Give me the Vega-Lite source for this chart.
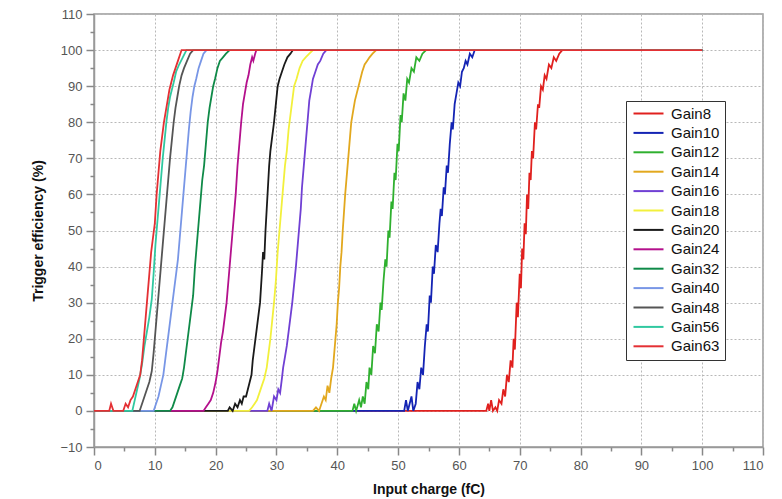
{
  "$schema": "https://vega.github.io/schema/vega-lite/v6.json",
  "width": 669,
  "height": 433,
  "autosize": {"type": "none"},
  "padding": {"left": 94, "top": 14, "right": 19, "bottom": 52},
  "background": "white",
  "config": {
    "view": {"stroke": "#999999", "strokeWidth": 1.5},
    "font": "Liberation Sans"
  },
  "data": {"values": [
    {"gain":"Gain8","charge":0,"eff":0},{"gain":"Gain8","charge":64.5,"eff":0},{"gain":"Gain8","charge":64.8,"eff":2},{"gain":"Gain8","charge":65.0,"eff":0},{"gain":"Gain8","charge":65.3,"eff":3},{"gain":"Gain8","charge":65.6,"eff":0},{"gain":"Gain8","charge":66.0,"eff":1},{"gain":"Gain8","charge":66.3,"eff":0},{"gain":"Gain8","charge":66.6,"eff":3},{"gain":"Gain8","charge":67.0,"eff":2},{"gain":"Gain8","charge":67.3,"eff":6},{"gain":"Gain8","charge":67.6,"eff":4},{"gain":"Gain8","charge":67.9,"eff":10},{"gain":"Gain8","charge":68.2,"eff":8},{"gain":"Gain8","charge":68.5,"eff":14},{"gain":"Gain8","charge":68.8,"eff":12},{"gain":"Gain8","charge":69.0,"eff":20},{"gain":"Gain8","charge":69.2,"eff":17},{"gain":"Gain8","charge":69.5,"eff":30},{"gain":"Gain8","charge":69.7,"eff":26},{"gain":"Gain8","charge":70.0,"eff":38},{"gain":"Gain8","charge":70.2,"eff":34},{"gain":"Gain8","charge":70.4,"eff":45},{"gain":"Gain8","charge":70.6,"eff":42},{"gain":"Gain8","charge":70.8,"eff":52},{"gain":"Gain8","charge":71.0,"eff":49},{"gain":"Gain8","charge":71.2,"eff":60},{"gain":"Gain8","charge":71.4,"eff":56},{"gain":"Gain8","charge":71.6,"eff":66},{"gain":"Gain8","charge":71.8,"eff":64},{"gain":"Gain8","charge":72.0,"eff":72},{"gain":"Gain8","charge":72.2,"eff":70},{"gain":"Gain8","charge":72.5,"eff":80},{"gain":"Gain8","charge":72.7,"eff":78},{"gain":"Gain8","charge":73.0,"eff":85},{"gain":"Gain8","charge":73.2,"eff":84},{"gain":"Gain8","charge":73.5,"eff":90},{"gain":"Gain8","charge":73.8,"eff":89},{"gain":"Gain8","charge":74.1,"eff":93},{"gain":"Gain8","charge":74.4,"eff":92},{"gain":"Gain8","charge":74.8,"eff":96},{"gain":"Gain8","charge":75.2,"eff":95},{"gain":"Gain8","charge":75.6,"eff":98},{"gain":"Gain8","charge":76.0,"eff":97},{"gain":"Gain8","charge":76.5,"eff":99},{"gain":"Gain8","charge":77.0,"eff":100},{"gain":"Gain8","charge":100,"eff":100},

    {"gain":"Gain10","charge":0,"eff":0},{"gain":"Gain10","charge":51.0,"eff":0},{"gain":"Gain10","charge":51.3,"eff":3},{"gain":"Gain10","charge":51.6,"eff":0},{"gain":"Gain10","charge":52.2,"eff":4},{"gain":"Gain10","charge":52.5,"eff":0},{"gain":"Gain10","charge":52.9,"eff":2},{"gain":"Gain10","charge":53.2,"eff":8},{"gain":"Gain10","charge":53.5,"eff":6},{"gain":"Gain10","charge":53.8,"eff":12},{"gain":"Gain10","charge":54.1,"eff":10},{"gain":"Gain10","charge":54.4,"eff":18},{"gain":"Gain10","charge":54.7,"eff":24},{"gain":"Gain10","charge":54.9,"eff":22},{"gain":"Gain10","charge":55.2,"eff":32},{"gain":"Gain10","charge":55.4,"eff":30},{"gain":"Gain10","charge":55.7,"eff":40},{"gain":"Gain10","charge":55.9,"eff":38},{"gain":"Gain10","charge":56.2,"eff":46},{"gain":"Gain10","charge":56.5,"eff":44},{"gain":"Gain10","charge":56.8,"eff":52},{"gain":"Gain10","charge":57.0,"eff":56},{"gain":"Gain10","charge":57.2,"eff":54},{"gain":"Gain10","charge":57.5,"eff":62},{"gain":"Gain10","charge":57.7,"eff":60},{"gain":"Gain10","charge":58.0,"eff":68},{"gain":"Gain10","charge":58.2,"eff":66},{"gain":"Gain10","charge":58.5,"eff":74},{"gain":"Gain10","charge":58.8,"eff":80},{"gain":"Gain10","charge":59.0,"eff":78},{"gain":"Gain10","charge":59.3,"eff":85},{"gain":"Gain10","charge":59.6,"eff":88},{"gain":"Gain10","charge":59.9,"eff":91},{"gain":"Gain10","charge":60.2,"eff":90},{"gain":"Gain10","charge":60.5,"eff":94},{"gain":"Gain10","charge":60.8,"eff":95},{"gain":"Gain10","charge":61.1,"eff":97},{"gain":"Gain10","charge":61.4,"eff":96},{"gain":"Gain10","charge":61.8,"eff":99},{"gain":"Gain10","charge":62.2,"eff":98},{"gain":"Gain10","charge":62.6,"eff":100},{"gain":"Gain10","charge":100,"eff":100},

    {"gain":"Gain12","charge":0,"eff":0},{"gain":"Gain12","charge":42.5,"eff":0},{"gain":"Gain12","charge":42.8,"eff":2},{"gain":"Gain12","charge":43.1,"eff":0},{"gain":"Gain12","charge":43.6,"eff":3},{"gain":"Gain12","charge":43.9,"eff":1},{"gain":"Gain12","charge":44.2,"eff":4},{"gain":"Gain12","charge":44.5,"eff":2},{"gain":"Gain12","charge":44.8,"eff":8},{"gain":"Gain12","charge":45.1,"eff":6},{"gain":"Gain12","charge":45.3,"eff":12},{"gain":"Gain12","charge":45.6,"eff":10},{"gain":"Gain12","charge":45.9,"eff":18},{"gain":"Gain12","charge":46.2,"eff":16},{"gain":"Gain12","charge":46.5,"eff":24},{"gain":"Gain12","charge":46.8,"eff":22},{"gain":"Gain12","charge":47.1,"eff":30},{"gain":"Gain12","charge":47.3,"eff":28},{"gain":"Gain12","charge":47.6,"eff":36},{"gain":"Gain12","charge":47.9,"eff":42},{"gain":"Gain12","charge":48.1,"eff":40},{"gain":"Gain12","charge":48.4,"eff":50},{"gain":"Gain12","charge":48.6,"eff":48},{"gain":"Gain12","charge":48.9,"eff":58},{"gain":"Gain12","charge":49.1,"eff":56},{"gain":"Gain12","charge":49.4,"eff":66},{"gain":"Gain12","charge":49.6,"eff":64},{"gain":"Gain12","charge":49.9,"eff":74},{"gain":"Gain12","charge":50.1,"eff":72},{"gain":"Gain12","charge":50.4,"eff":82},{"gain":"Gain12","charge":50.6,"eff":80},{"gain":"Gain12","charge":50.9,"eff":88},{"gain":"Gain12","charge":51.2,"eff":86},{"gain":"Gain12","charge":51.5,"eff":92},{"gain":"Gain12","charge":51.8,"eff":91},{"gain":"Gain12","charge":52.2,"eff":95},{"gain":"Gain12","charge":52.6,"eff":94},{"gain":"Gain12","charge":53.0,"eff":98},{"gain":"Gain12","charge":53.5,"eff":97},{"gain":"Gain12","charge":54.0,"eff":99},{"gain":"Gain12","charge":54.6,"eff":100},{"gain":"Gain12","charge":100,"eff":100},

    {"gain":"Gain14","charge":0,"eff":0},{"gain":"Gain14","charge":36.0,"eff":0},{"gain":"Gain14","charge":36.5,"eff":1},{"gain":"Gain14","charge":37.0,"eff":0},{"gain":"Gain14","charge":37.4,"eff":2},{"gain":"Gain14","charge":37.8,"eff":4},{"gain":"Gain14","charge":38.1,"eff":3},{"gain":"Gain14","charge":38.4,"eff":7},{"gain":"Gain14","charge":38.7,"eff":5},{"gain":"Gain14","charge":39.0,"eff":9},{"gain":"Gain14","charge":39.3,"eff":12},{"gain":"Gain14","charge":39.5,"eff":16},{"gain":"Gain14","charge":39.7,"eff":20},{"gain":"Gain14","charge":39.9,"eff":24},{"gain":"Gain14","charge":40.1,"eff":30},{"gain":"Gain14","charge":40.3,"eff":34},{"gain":"Gain14","charge":40.5,"eff":40},{"gain":"Gain14","charge":40.7,"eff":44},{"gain":"Gain14","charge":40.9,"eff":50},{"gain":"Gain14","charge":41.1,"eff":55},{"gain":"Gain14","charge":41.3,"eff":60},{"gain":"Gain14","charge":41.5,"eff":64},{"gain":"Gain14","charge":41.7,"eff":68},{"gain":"Gain14","charge":41.9,"eff":72},{"gain":"Gain14","charge":42.1,"eff":76},{"gain":"Gain14","charge":42.3,"eff":80},{"gain":"Gain14","charge":42.6,"eff":83},{"gain":"Gain14","charge":42.9,"eff":86},{"gain":"Gain14","charge":43.2,"eff":88},{"gain":"Gain14","charge":43.5,"eff":90},{"gain":"Gain14","charge":43.8,"eff":92},{"gain":"Gain14","charge":44.1,"eff":94},{"gain":"Gain14","charge":44.5,"eff":96},{"gain":"Gain14","charge":44.9,"eff":97},{"gain":"Gain14","charge":45.3,"eff":98},{"gain":"Gain14","charge":45.8,"eff":99},{"gain":"Gain14","charge":46.4,"eff":100},{"gain":"Gain14","charge":100,"eff":100},

    {"gain":"Gain16","charge":0,"eff":0},{"gain":"Gain16","charge":28.5,"eff":0},{"gain":"Gain16","charge":28.8,"eff":2},{"gain":"Gain16","charge":29.2,"eff":0},{"gain":"Gain16","charge":29.6,"eff":4},{"gain":"Gain16","charge":30.0,"eff":3},{"gain":"Gain16","charge":30.3,"eff":6},{"gain":"Gain16","charge":30.6,"eff":5},{"gain":"Gain16","charge":30.9,"eff":9},{"gain":"Gain16","charge":31.1,"eff":12},{"gain":"Gain16","charge":31.4,"eff":15},{"gain":"Gain16","charge":31.7,"eff":18},{"gain":"Gain16","charge":32.0,"eff":22},{"gain":"Gain16","charge":32.3,"eff":26},{"gain":"Gain16","charge":32.6,"eff":30},{"gain":"Gain16","charge":32.9,"eff":35},{"gain":"Gain16","charge":33.2,"eff":40},{"gain":"Gain16","charge":33.5,"eff":46},{"gain":"Gain16","charge":33.7,"eff":50},{"gain":"Gain16","charge":34.0,"eff":56},{"gain":"Gain16","charge":34.2,"eff":62},{"gain":"Gain16","charge":34.5,"eff":68},{"gain":"Gain16","charge":34.7,"eff":72},{"gain":"Gain16","charge":34.9,"eff":76},{"gain":"Gain16","charge":35.2,"eff":82},{"gain":"Gain16","charge":35.4,"eff":86},{"gain":"Gain16","charge":35.7,"eff":89},{"gain":"Gain16","charge":36.0,"eff":92},{"gain":"Gain16","charge":36.4,"eff":94},{"gain":"Gain16","charge":36.8,"eff":96},{"gain":"Gain16","charge":37.2,"eff":97},{"gain":"Gain16","charge":37.7,"eff":99},{"gain":"Gain16","charge":38.2,"eff":100},{"gain":"Gain16","charge":100,"eff":100},

    {"gain":"Gain18","charge":0,"eff":0},{"gain":"Gain18","charge":25.5,"eff":0},{"gain":"Gain18","charge":26.0,"eff":1},{"gain":"Gain18","charge":26.4,"eff":2},{"gain":"Gain18","charge":26.8,"eff":3},{"gain":"Gain18","charge":27.2,"eff":5},{"gain":"Gain18","charge":27.6,"eff":7},{"gain":"Gain18","charge":28.0,"eff":9},{"gain":"Gain18","charge":28.4,"eff":12},{"gain":"Gain18","charge":28.7,"eff":16},{"gain":"Gain18","charge":29.0,"eff":20},{"gain":"Gain18","charge":29.3,"eff":25},{"gain":"Gain18","charge":29.6,"eff":30},{"gain":"Gain18","charge":29.9,"eff":36},{"gain":"Gain18","charge":30.2,"eff":44},{"gain":"Gain18","charge":30.5,"eff":50},{"gain":"Gain18","charge":30.8,"eff":56},{"gain":"Gain18","charge":31.1,"eff":62},{"gain":"Gain18","charge":31.4,"eff":68},{"gain":"Gain18","charge":31.7,"eff":72},{"gain":"Gain18","charge":32.0,"eff":78},{"gain":"Gain18","charge":32.3,"eff":82},{"gain":"Gain18","charge":32.6,"eff":86},{"gain":"Gain18","charge":32.9,"eff":90},{"gain":"Gain18","charge":33.3,"eff":92},{"gain":"Gain18","charge":33.8,"eff":95},{"gain":"Gain18","charge":34.3,"eff":97},{"gain":"Gain18","charge":34.8,"eff":98},{"gain":"Gain18","charge":35.4,"eff":99},{"gain":"Gain18","charge":36.0,"eff":100},{"gain":"Gain18","charge":100,"eff":100},

    {"gain":"Gain20","charge":0,"eff":0},{"gain":"Gain20","charge":22.0,"eff":0},{"gain":"Gain20","charge":22.3,"eff":1},{"gain":"Gain20","charge":22.8,"eff":0},{"gain":"Gain20","charge":23.2,"eff":2},{"gain":"Gain20","charge":23.6,"eff":1},{"gain":"Gain20","charge":24.0,"eff":3},{"gain":"Gain20","charge":24.3,"eff":2},{"gain":"Gain20","charge":24.6,"eff":4},{"gain":"Gain20","charge":25.0,"eff":4},{"gain":"Gain20","charge":25.3,"eff":6},{"gain":"Gain20","charge":25.6,"eff":8},{"gain":"Gain20","charge":25.9,"eff":10},{"gain":"Gain20","charge":26.1,"eff":14},{"gain":"Gain20","charge":26.4,"eff":18},{"gain":"Gain20","charge":26.7,"eff":22},{"gain":"Gain20","charge":27.0,"eff":26},{"gain":"Gain20","charge":27.3,"eff":30},{"gain":"Gain20","charge":27.6,"eff":38},{"gain":"Gain20","charge":27.8,"eff":44},{"gain":"Gain20","charge":28.0,"eff":42},{"gain":"Gain20","charge":28.2,"eff":50},{"gain":"Gain20","charge":28.4,"eff":56},{"gain":"Gain20","charge":28.6,"eff":62},{"gain":"Gain20","charge":28.8,"eff":68},{"gain":"Gain20","charge":29.0,"eff":72},{"gain":"Gain20","charge":29.3,"eff":76},{"gain":"Gain20","charge":29.6,"eff":80},{"gain":"Gain20","charge":29.9,"eff":85},{"gain":"Gain20","charge":30.2,"eff":90},{"gain":"Gain20","charge":30.5,"eff":92},{"gain":"Gain20","charge":30.9,"eff":94},{"gain":"Gain20","charge":31.3,"eff":96},{"gain":"Gain20","charge":31.8,"eff":98},{"gain":"Gain20","charge":32.3,"eff":99},{"gain":"Gain20","charge":32.7,"eff":100},{"gain":"Gain20","charge":100,"eff":100},

    {"gain":"Gain24","charge":0,"eff":0},{"gain":"Gain24","charge":18.0,"eff":0},{"gain":"Gain24","charge":18.4,"eff":1},{"gain":"Gain24","charge":18.8,"eff":2},{"gain":"Gain24","charge":19.2,"eff":3},{"gain":"Gain24","charge":19.6,"eff":5},{"gain":"Gain24","charge":20.0,"eff":8},{"gain":"Gain24","charge":20.3,"eff":11},{"gain":"Gain24","charge":20.6,"eff":15},{"gain":"Gain24","charge":20.9,"eff":19},{"gain":"Gain24","charge":21.2,"eff":22},{"gain":"Gain24","charge":21.5,"eff":26},{"gain":"Gain24","charge":21.8,"eff":30},{"gain":"Gain24","charge":22.1,"eff":36},{"gain":"Gain24","charge":22.4,"eff":42},{"gain":"Gain24","charge":22.7,"eff":48},{"gain":"Gain24","charge":23.0,"eff":54},{"gain":"Gain24","charge":23.3,"eff":60},{"gain":"Gain24","charge":23.6,"eff":68},{"gain":"Gain24","charge":23.9,"eff":74},{"gain":"Gain24","charge":24.2,"eff":80},{"gain":"Gain24","charge":24.5,"eff":85},{"gain":"Gain24","charge":24.8,"eff":88},{"gain":"Gain24","charge":25.1,"eff":91},{"gain":"Gain24","charge":25.4,"eff":93},{"gain":"Gain24","charge":25.7,"eff":96},{"gain":"Gain24","charge":26.0,"eff":98},{"gain":"Gain24","charge":26.2,"eff":97},{"gain":"Gain24","charge":26.5,"eff":99},{"gain":"Gain24","charge":26.7,"eff":100},{"gain":"Gain24","charge":100,"eff":100},

    {"gain":"Gain32","charge":0,"eff":0},{"gain":"Gain32","charge":12.5,"eff":0},{"gain":"Gain32","charge":12.9,"eff":1},{"gain":"Gain32","charge":13.3,"eff":3},{"gain":"Gain32","charge":13.7,"eff":5},{"gain":"Gain32","charge":14.1,"eff":7},{"gain":"Gain32","charge":14.5,"eff":9},{"gain":"Gain32","charge":14.8,"eff":12},{"gain":"Gain32","charge":15.1,"eff":16},{"gain":"Gain32","charge":15.4,"eff":20},{"gain":"Gain32","charge":15.7,"eff":24},{"gain":"Gain32","charge":16.0,"eff":28},{"gain":"Gain32","charge":16.3,"eff":32},{"gain":"Gain32","charge":16.6,"eff":40},{"gain":"Gain32","charge":16.9,"eff":46},{"gain":"Gain32","charge":17.2,"eff":52},{"gain":"Gain32","charge":17.5,"eff":58},{"gain":"Gain32","charge":17.8,"eff":64},{"gain":"Gain32","charge":18.1,"eff":68},{"gain":"Gain32","charge":18.4,"eff":74},{"gain":"Gain32","charge":18.7,"eff":80},{"gain":"Gain32","charge":19.0,"eff":84},{"gain":"Gain32","charge":19.3,"eff":87},{"gain":"Gain32","charge":19.6,"eff":90},{"gain":"Gain32","charge":19.9,"eff":92},{"gain":"Gain32","charge":20.3,"eff":95},{"gain":"Gain32","charge":20.7,"eff":97},{"gain":"Gain32","charge":21.2,"eff":98},{"gain":"Gain32","charge":21.7,"eff":99},{"gain":"Gain32","charge":22.3,"eff":100},{"gain":"Gain32","charge":100,"eff":100},

    {"gain":"Gain40","charge":0,"eff":0},{"gain":"Gain40","charge":9.8,"eff":0},{"gain":"Gain40","charge":10.2,"eff":2},{"gain":"Gain40","charge":10.6,"eff":4},{"gain":"Gain40","charge":11.0,"eff":7},{"gain":"Gain40","charge":11.4,"eff":10},{"gain":"Gain40","charge":11.7,"eff":14},{"gain":"Gain40","charge":12.0,"eff":18},{"gain":"Gain40","charge":12.3,"eff":22},{"gain":"Gain40","charge":12.6,"eff":26},{"gain":"Gain40","charge":12.9,"eff":30},{"gain":"Gain40","charge":13.2,"eff":34},{"gain":"Gain40","charge":13.5,"eff":38},{"gain":"Gain40","charge":13.8,"eff":42},{"gain":"Gain40","charge":14.1,"eff":48},{"gain":"Gain40","charge":14.4,"eff":54},{"gain":"Gain40","charge":14.7,"eff":60},{"gain":"Gain40","charge":15.0,"eff":66},{"gain":"Gain40","charge":15.3,"eff":72},{"gain":"Gain40","charge":15.6,"eff":78},{"gain":"Gain40","charge":15.9,"eff":83},{"gain":"Gain40","charge":16.2,"eff":87},{"gain":"Gain40","charge":16.5,"eff":90},{"gain":"Gain40","charge":16.8,"eff":92},{"gain":"Gain40","charge":17.2,"eff":95},{"gain":"Gain40","charge":17.6,"eff":97},{"gain":"Gain40","charge":18.0,"eff":99},{"gain":"Gain40","charge":18.5,"eff":100},{"gain":"Gain40","charge":100,"eff":100},

    {"gain":"Gain48","charge":0,"eff":0},{"gain":"Gain48","charge":7.5,"eff":0},{"gain":"Gain48","charge":7.9,"eff":2},{"gain":"Gain48","charge":8.3,"eff":4},{"gain":"Gain48","charge":8.7,"eff":6},{"gain":"Gain48","charge":9.1,"eff":8},{"gain":"Gain48","charge":9.5,"eff":11},{"gain":"Gain48","charge":9.8,"eff":16},{"gain":"Gain48","charge":10.1,"eff":22},{"gain":"Gain48","charge":10.4,"eff":28},{"gain":"Gain48","charge":10.7,"eff":34},{"gain":"Gain48","charge":11.0,"eff":40},{"gain":"Gain48","charge":11.3,"eff":46},{"gain":"Gain48","charge":11.6,"eff":52},{"gain":"Gain48","charge":11.9,"eff":58},{"gain":"Gain48","charge":12.2,"eff":64},{"gain":"Gain48","charge":12.5,"eff":70},{"gain":"Gain48","charge":12.8,"eff":75},{"gain":"Gain48","charge":13.1,"eff":80},{"gain":"Gain48","charge":13.4,"eff":84},{"gain":"Gain48","charge":13.7,"eff":87},{"gain":"Gain48","charge":14.0,"eff":90},{"gain":"Gain48","charge":14.4,"eff":93},{"gain":"Gain48","charge":14.8,"eff":95},{"gain":"Gain48","charge":15.3,"eff":97},{"gain":"Gain48","charge":15.8,"eff":99},{"gain":"Gain48","charge":16.3,"eff":100},{"gain":"Gain48","charge":100,"eff":100},

    {"gain":"Gain56","charge":0,"eff":0},{"gain":"Gain56","charge":6.3,"eff":0},{"gain":"Gain56","charge":6.7,"eff":3},{"gain":"Gain56","charge":7.1,"eff":6},{"gain":"Gain56","charge":7.5,"eff":9},{"gain":"Gain56","charge":7.9,"eff":13},{"gain":"Gain56","charge":8.3,"eff":18},{"gain":"Gain56","charge":8.7,"eff":22},{"gain":"Gain56","charge":9.1,"eff":26},{"gain":"Gain56","charge":9.5,"eff":31},{"gain":"Gain56","charge":9.8,"eff":38},{"gain":"Gain56","charge":10.1,"eff":46},{"gain":"Gain56","charge":10.4,"eff":52},{"gain":"Gain56","charge":10.7,"eff":58},{"gain":"Gain56","charge":11.0,"eff":64},{"gain":"Gain56","charge":11.3,"eff":70},{"gain":"Gain56","charge":11.6,"eff":75},{"gain":"Gain56","charge":11.9,"eff":80},{"gain":"Gain56","charge":12.2,"eff":84},{"gain":"Gain56","charge":12.5,"eff":87},{"gain":"Gain56","charge":12.8,"eff":89},{"gain":"Gain56","charge":13.1,"eff":91},{"gain":"Gain56","charge":13.5,"eff":94},{"gain":"Gain56","charge":14.0,"eff":96},{"gain":"Gain56","charge":14.6,"eff":98},{"gain":"Gain56","charge":15.2,"eff":100},{"gain":"Gain56","charge":100,"eff":100},

    {"gain":"Gain63","charge":0,"eff":0},{"gain":"Gain63","charge":2.5,"eff":0},{"gain":"Gain63","charge":2.8,"eff":2},{"gain":"Gain63","charge":3.2,"eff":0},{"gain":"Gain63","charge":4.8,"eff":0},{"gain":"Gain63","charge":5.2,"eff":2},{"gain":"Gain63","charge":5.6,"eff":1},{"gain":"Gain63","charge":6.0,"eff":3},{"gain":"Gain63","charge":6.4,"eff":4},{"gain":"Gain63","charge":6.8,"eff":6},{"gain":"Gain63","charge":7.2,"eff":8},{"gain":"Gain63","charge":7.6,"eff":10},{"gain":"Gain63","charge":7.9,"eff":14},{"gain":"Gain63","charge":8.2,"eff":20},{"gain":"Gain63","charge":8.5,"eff":26},{"gain":"Gain63","charge":8.8,"eff":32},{"gain":"Gain63","charge":9.1,"eff":38},{"gain":"Gain63","charge":9.4,"eff":44},{"gain":"Gain63","charge":9.7,"eff":48},{"gain":"Gain63","charge":10.0,"eff":52},{"gain":"Gain63","charge":10.3,"eff":60},{"gain":"Gain63","charge":10.6,"eff":66},{"gain":"Gain63","charge":10.9,"eff":72},{"gain":"Gain63","charge":11.2,"eff":76},{"gain":"Gain63","charge":11.5,"eff":80},{"gain":"Gain63","charge":11.8,"eff":83},{"gain":"Gain63","charge":12.1,"eff":86},{"gain":"Gain63","charge":12.4,"eff":89},{"gain":"Gain63","charge":12.7,"eff":91},{"gain":"Gain63","charge":13.0,"eff":93},{"gain":"Gain63","charge":13.4,"eff":95},{"gain":"Gain63","charge":13.8,"eff":97},{"gain":"Gain63","charge":14.4,"eff":100},{"gain":"Gain63","charge":100,"eff":100}
  ]},
  "layer": [
    {
      "mark": {"type": "line", "strokeWidth": 1.8, "clip": true},
      "encoding": {
        "x": {
          "field": "charge", "type": "quantitative",
          "scale": {"domain": [0, 110], "nice": false, "zero": false},
          "axis": {
            "title": "Input charge (fC)", "titleFont": "Liberation Sans", "titleFontSize": 14, "titleFontWeight": "bold", "titleColor": "#111111", "titlePadding": 10,
            "values": [0, 10, 20, 30, 40, 50, 60, 70, 80, 90, 100, 110],
            "labelFont": "Liberation Sans", "labelFontSize": 13, "labelColor": "#555555", "labelPadding": 4,
            "tickSize": 8, "tickColor": "#888888", "tickWidth": 1.5,
            "domainColor": "#999999", "domainWidth": 1.5,
            "grid": true, "gridColor": "#b8b8b8", "gridDash": [2, 2], "gridWidth": 1
          }
        },
        "y": {
          "field": "eff", "type": "quantitative",
          "scale": {"domain": [-10, 110], "nice": false, "zero": false},
          "axis": {
            "title": "Trigger efficiency (%)", "titleFont": "Liberation Sans", "titleFontSize": 14, "titleFontWeight": "bold", "titleColor": "#111111", "titlePadding": 14,
            "values": [-10, 0, 10, 20, 30, 40, 50, 60, 70, 80, 90, 100, 110],
            "labelFont": "Liberation Sans", "labelFontSize": 13, "labelColor": "#555555", "labelPadding": 4,
            "tickSize": 8, "tickColor": "#888888", "tickWidth": 1.5,
            "domainColor": "#999999", "domainWidth": 1.5,
            "grid": true, "gridColor": "#b8b8b8", "gridDash": [2, 2], "gridWidth": 1
          }
        },
        "color": {
          "field": "gain", "type": "nominal",
          "scale": {
            "domain": ["Gain8", "Gain10", "Gain12", "Gain14", "Gain16", "Gain18", "Gain20", "Gain24", "Gain32", "Gain40", "Gain48", "Gain56", "Gain63"],
            "range": ["#e0201e", "#1424b4", "#2fb02f", "#e2a81e", "#7040d4", "#f2f03c", "#1a1a1a", "#b4108c", "#0f8a48", "#7896e6", "#555555", "#30c8a0", "#e43034"]
          },
          "legend": {
            "title": null, "orient": "none", "legendX": 532, "legendY": 87,
            "symbolType": "M-1,0H5", "symbolSize": 100, "symbolStrokeWidth": 2,
            "labelFont": "Liberation Sans", "labelFontSize": 15, "labelColor": "#111111", "labelOffset": 25,
            "strokeColor": "#333333", "fillColor": "white", "padding": 5, "rowPadding": 3.4
          }
        }
      }
    },
    {
      "mark": {"type": "point", "opacity": 0},
      "encoding": {
        "x": {
          "field": "charge", "type": "quantitative",
          "axis": {"orient": "bottom", "title": null, "labels": false, "domain": false, "grid": false, "values": [5, 15, 25, 35, 45, 55, 65, 75, 85, 95, 105], "tickSize": 4, "tickColor": "#888888", "tickWidth": 1.5}
        },
        "y": {
          "field": "eff", "type": "quantitative",
          "axis": {"orient": "left", "title": null, "labels": false, "domain": false, "grid": false, "values": [-5, 5, 15, 25, 35, 45, 55, 65, 75, 85, 95, 105], "tickSize": 4, "tickColor": "#888888", "tickWidth": 1.5}
        }
      }
    }
  ],
  "resolve": {"axis": {"x": "independent", "y": "independent"}}
}
